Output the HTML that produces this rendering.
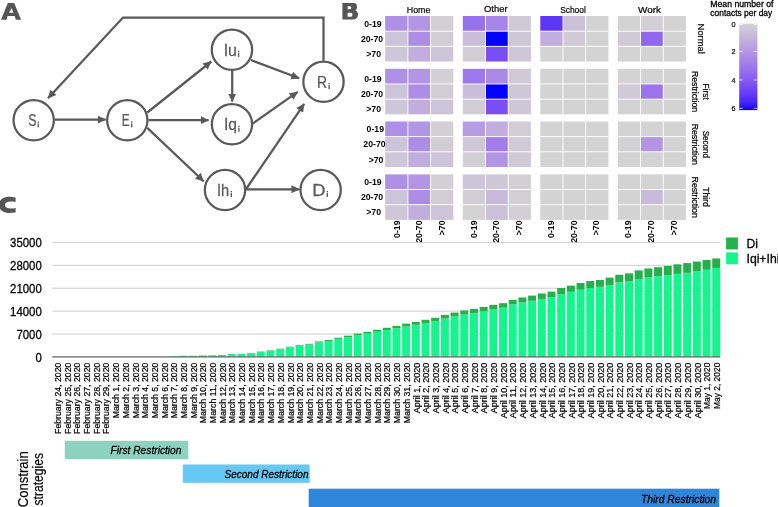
<!DOCTYPE html>
<html><head><meta charset="utf-8"><title>Figure</title>
<style>
html,body{margin:0;padding:0;background:#fff;}
body{width:778px;height:507px;overflow:hidden;position:relative;font-family:"Liberation Sans",sans-serif;}
svg text{font-family:"Liberation Sans",sans-serif;}
</style></head><body>
<svg width="778" height="507" viewBox="0 0 778 507" style="position:absolute;left:0;top:0;will-change:transform;opacity:0.999">
<defs><marker id="ah" viewBox="0 0 10 10" refX="9.5" refY="5" markerWidth="8.4" markerHeight="9.0" preserveAspectRatio="none" markerUnits="userSpaceOnUse" orient="auto"><path d="M0,0.5 L10,5 L0,9.5 Z" fill="#595959"/></marker>
<linearGradient id="cb" x1="0" y1="0" x2="0" y2="1">
<stop offset="0" stop-color="#d3d3d3"/>
<stop offset="0.05" stop-color="#cfcad6"/>
<stop offset="0.1" stop-color="#cac1d9"/>
<stop offset="0.15" stop-color="#c6b7db"/>
<stop offset="0.2" stop-color="#c1aede"/>
<stop offset="0.25" stop-color="#bba5e0"/>
<stop offset="0.3" stop-color="#b69ce3"/>
<stop offset="0.35" stop-color="#b093e5"/>
<stop offset="0.4" stop-color="#aa89e7"/>
<stop offset="0.45" stop-color="#a480ea"/>
<stop offset="0.5" stop-color="#9d77ec"/>
<stop offset="0.55" stop-color="#966eee"/>
<stop offset="0.6" stop-color="#8e65f0"/>
<stop offset="0.65" stop-color="#855bf2"/>
<stop offset="0.7" stop-color="#7c51f4"/>
<stop offset="0.75" stop-color="#7248f6"/>
<stop offset="0.8" stop-color="#673df8"/>
<stop offset="0.85" stop-color="#5932fa"/>
<stop offset="0.9" stop-color="#4926fb"/>
<stop offset="0.95" stop-color="#3318fd"/>
<stop offset="1" stop-color="#0000ff"/>
</linearGradient></defs>
<g fill="none" stroke="#595959" stroke-width="2.25">
<circle cx="33.7" cy="120.2" r="20.15"/>
<circle cx="127.3" cy="120.2" r="20.15"/>
<circle cx="231.95" cy="49.7" r="20.15"/>
<circle cx="231.95" cy="124.2" r="20.15"/>
<circle cx="225" cy="190" r="20.15"/>
<circle cx="323.5" cy="81.8" r="20.15"/>
<circle cx="320.65" cy="190" r="20.15"/>
<line x1="55" y1="119.6" x2="105.6" y2="119.6" marker-end="url(#ah)"/>
<line x1="147.3" y1="112.5" x2="211.3" y2="61.5" marker-end="url(#ah)"/>
<line x1="148.4" y1="120.2" x2="208.6" y2="120.2" marker-end="url(#ah)"/>
<line x1="147.3" y1="127.9" x2="203.6" y2="181.2" marker-end="url(#ah)"/>
<line x1="232.2" y1="70.7" x2="232.2" y2="101.6" marker-end="url(#ah)"/>
<line x1="250.9" y1="60" x2="299.2" y2="78.3" marker-end="url(#ah)"/>
<line x1="252.7" y1="123.6" x2="297.7" y2="91.9" marker-end="url(#ah)"/>
<line x1="246.1" y1="189" x2="304.2" y2="103.8" marker-end="url(#ah)"/>
<line x1="246.1" y1="189.3" x2="299.4" y2="189.3" marker-end="url(#ah)"/>
<polyline points="323.5,60.8 323.5,17.5 123,17.5 48,98.2" marker-end="url(#ah)"/>
</g>
<g font-family="Liberation Sans, sans-serif" fill="#595959">
<text transform="translate(28.32,125.90) scale(0.754,1)" font-size="16.3" stroke="#595959" stroke-width="0.25">S</text>
<rect x="37.53" y="123.40" width="1.35" height="4.0" stroke="none"/><rect x="37.48" y="121.40" width="1.45" height="1.3" stroke="none"/>
<text transform="translate(121.87,125.80) scale(0.731,1)" font-size="16.3" stroke="#595959" stroke-width="0.25">E</text>
<rect x="131.03" y="123.30" width="1.35" height="4.0" stroke="none"/><rect x="130.98" y="121.30" width="1.45" height="1.3" stroke="none"/>
<text transform="translate(223.66,55.50) scale(0.977,1)" font-size="16.3" stroke="#595959" stroke-width="0.25">Iu</text>
<rect x="237.93" y="53.00" width="1.35" height="4.0" stroke="none"/><rect x="237.88" y="51.00" width="1.45" height="1.3" stroke="none"/>
<text transform="translate(223.88,130.30) scale(0.960,1)" font-size="16.3" stroke="#595959" stroke-width="0.25">Iq</text>
<rect x="238.23" y="127.80" width="1.35" height="4.0" stroke="none"/><rect x="238.18" y="125.80" width="1.45" height="1.3" stroke="none"/>
<text transform="translate(216.96,195.50) scale(0.899,1)" font-size="16.3" stroke="#595959" stroke-width="0.25">Ih</text>
<rect x="230.63" y="193.00" width="1.35" height="4.0" stroke="none"/><rect x="230.58" y="191.00" width="1.45" height="1.3" stroke="none"/>
<text transform="translate(317.11,87.60) scale(0.856,1)" font-size="16.3" stroke="#595959" stroke-width="0.25">R</text>
<rect x="328.43" y="85.10" width="1.35" height="4.0" stroke="none"/><rect x="328.38" y="83.10" width="1.45" height="1.3" stroke="none"/>
<text transform="translate(312.26,195.50) scale(1.128,1)" font-size="16.3" stroke="#595959" stroke-width="0.25">D</text>
<rect x="326.63" y="193.00" width="1.35" height="4.0" stroke="none"/><rect x="326.58" y="191.00" width="1.45" height="1.3" stroke="none"/>
</g>
<g fill="#555" fill-rule="evenodd">
<path d="M1.04,19.64 L7.8,3.0 L14.2,3.0 L21.06,19.64 L15.85,19.64 L14.7,16.1 L7.5,16.1 L6.6,19.64 Z M11.6,8.0 L13.35,12.8 L9.1,12.8 Z"/>
<path d="M342.4,2.9 L353.3,2.9 C356.4,2.9 357.1,5.0 357.1,7.0 C357.1,8.8 356.3,9.8 355.2,10.4 C357.0,11.0 358.0,12.4 358.0,14.7 C358,17.8 356,19.5 352.5,19.5 L342.4,19.5 Z M347.6,6.2 L350.0,6.2 C351.6,6.2 351.6,9.2 350,9.2 L347.6,9.2 Z M347.6,12.7 L350.8,12.7 C353.0,12.7 353.0,16.8 350.8,16.8 L347.6,16.8 Z"/>
<path d="M15.6,197.6 C13,197.0 10.8,196.8 9,196.8 C2.8,196.8 -1.0,200.2 -1.0,204.8 C-1.0,209.5 2.8,212.9 9,212.9 C10.8,212.9 13,212.8 15.6,212.5 L15.6,208.1 C13.5,208.5 12,208.6 10.8,208.6 C7,208.6 5,207 5,205 C5,203 7,201.6 10.8,201.6 C12,201.6 13.5,201.7 15.6,202.1 Z"/>
</g>
<rect x="385.20" y="16.00" width="22.70" height="15.17" fill="#ae90e6"/>
<rect x="407.90" y="16.00" width="22.70" height="15.17" fill="#b296e4"/>
<rect x="430.60" y="16.00" width="22.70" height="15.17" fill="#d2d0d4"/>
<rect x="385.20" y="31.17" width="22.70" height="15.17" fill="#ccc4d8"/>
<rect x="407.90" y="31.17" width="22.70" height="15.17" fill="#ac8de7"/>
<rect x="430.60" y="31.17" width="22.70" height="15.17" fill="#d0cdd5"/>
<rect x="385.20" y="46.33" width="22.70" height="15.17" fill="#cdc7d7"/>
<rect x="407.90" y="46.33" width="22.70" height="15.17" fill="#c1aede"/>
<rect x="430.60" y="46.33" width="22.70" height="15.17" fill="#ccc4d8"/>
<rect x="407.45" y="16.00" width="0.9" height="45.50" fill="#fff"/>
<rect x="385.20" y="30.72" width="68.10" height="0.9" fill="#fff"/>
<rect x="430.15" y="16.00" width="0.9" height="45.50" fill="#fff"/>
<rect x="385.20" y="45.88" width="68.10" height="0.9" fill="#fff"/>
<rect x="462.80" y="16.00" width="22.70" height="15.17" fill="#9871ed"/>
<rect x="485.50" y="16.00" width="22.70" height="15.17" fill="#a886e8"/>
<rect x="508.20" y="16.00" width="22.70" height="15.17" fill="#cfcad6"/>
<rect x="462.80" y="31.17" width="22.70" height="15.17" fill="#c9bdd9"/>
<rect x="485.50" y="31.17" width="22.70" height="15.17" fill="#0000ff"/>
<rect x="508.20" y="31.17" width="22.70" height="15.17" fill="#cdc7d7"/>
<rect x="462.80" y="46.33" width="22.70" height="15.17" fill="#d0cdd5"/>
<rect x="485.50" y="46.33" width="22.70" height="15.17" fill="#794ef5"/>
<rect x="508.20" y="46.33" width="22.70" height="15.17" fill="#cdc7d7"/>
<rect x="485.05" y="16.00" width="0.9" height="45.50" fill="#fff"/>
<rect x="462.80" y="30.72" width="68.10" height="0.9" fill="#fff"/>
<rect x="507.75" y="16.00" width="0.9" height="45.50" fill="#fff"/>
<rect x="462.80" y="45.88" width="68.10" height="0.9" fill="#fff"/>
<rect x="540.30" y="16.00" width="22.70" height="15.17" fill="#5e36f9"/>
<rect x="563.00" y="16.00" width="22.70" height="15.17" fill="#cac1d9"/>
<rect x="585.70" y="16.00" width="22.70" height="15.17" fill="#d3d3d3"/>
<rect x="540.30" y="31.17" width="22.70" height="15.17" fill="#c1aede"/>
<rect x="563.00" y="31.17" width="22.70" height="15.17" fill="#cfcad6"/>
<rect x="585.70" y="31.17" width="22.70" height="15.17" fill="#d3d3d3"/>
<rect x="540.30" y="46.33" width="22.70" height="15.17" fill="#d3d3d3"/>
<rect x="563.00" y="46.33" width="22.70" height="15.17" fill="#d3d3d3"/>
<rect x="585.70" y="46.33" width="22.70" height="15.17" fill="#d3d3d3"/>
<rect x="562.55" y="16.00" width="0.9" height="45.50" fill="#fff"/>
<rect x="540.30" y="30.72" width="68.10" height="0.9" fill="#fff"/>
<rect x="585.25" y="16.00" width="0.9" height="45.50" fill="#fff"/>
<rect x="540.30" y="45.88" width="68.10" height="0.9" fill="#fff"/>
<rect x="617.80" y="16.00" width="22.70" height="15.17" fill="#d3d3d3"/>
<rect x="640.50" y="16.00" width="22.70" height="15.17" fill="#d2d0d4"/>
<rect x="663.20" y="16.00" width="22.70" height="15.17" fill="#d3d3d3"/>
<rect x="617.80" y="31.17" width="22.70" height="15.17" fill="#cfcad6"/>
<rect x="640.50" y="31.17" width="22.70" height="15.17" fill="#9068ef"/>
<rect x="663.20" y="31.17" width="22.70" height="15.17" fill="#d3d3d3"/>
<rect x="617.80" y="46.33" width="22.70" height="15.17" fill="#d3d3d3"/>
<rect x="640.50" y="46.33" width="22.70" height="15.17" fill="#d3d3d3"/>
<rect x="663.20" y="46.33" width="22.70" height="15.17" fill="#d3d3d3"/>
<rect x="640.05" y="16.00" width="0.9" height="45.50" fill="#fff"/>
<rect x="617.80" y="30.72" width="68.10" height="0.9" fill="#fff"/>
<rect x="662.75" y="16.00" width="0.9" height="45.50" fill="#fff"/>
<rect x="617.80" y="45.88" width="68.10" height="0.9" fill="#fff"/>
<rect x="385.20" y="68.80" width="22.70" height="15.17" fill="#ae90e6"/>
<rect x="407.90" y="68.80" width="22.70" height="15.17" fill="#b296e4"/>
<rect x="430.60" y="68.80" width="22.70" height="15.17" fill="#d2d0d4"/>
<rect x="385.20" y="83.97" width="22.70" height="15.17" fill="#ccc4d8"/>
<rect x="407.90" y="83.97" width="22.70" height="15.17" fill="#ac8de7"/>
<rect x="430.60" y="83.97" width="22.70" height="15.17" fill="#d0cdd5"/>
<rect x="385.20" y="99.13" width="22.70" height="15.17" fill="#cdc7d7"/>
<rect x="407.90" y="99.13" width="22.70" height="15.17" fill="#c1aede"/>
<rect x="430.60" y="99.13" width="22.70" height="15.17" fill="#ccc4d8"/>
<rect x="407.45" y="68.80" width="0.9" height="45.50" fill="#fff"/>
<rect x="385.20" y="83.52" width="68.10" height="0.9" fill="#fff"/>
<rect x="430.15" y="68.80" width="0.9" height="45.50" fill="#fff"/>
<rect x="385.20" y="98.68" width="68.10" height="0.9" fill="#fff"/>
<rect x="462.80" y="68.80" width="22.70" height="15.17" fill="#9d77ec"/>
<rect x="485.50" y="68.80" width="22.70" height="15.17" fill="#aa89e7"/>
<rect x="508.20" y="68.80" width="22.70" height="15.17" fill="#cfcad6"/>
<rect x="462.80" y="83.97" width="22.70" height="15.17" fill="#c9bdd9"/>
<rect x="485.50" y="83.97" width="22.70" height="15.17" fill="#0000ff"/>
<rect x="508.20" y="83.97" width="22.70" height="15.17" fill="#cdc7d7"/>
<rect x="462.80" y="99.13" width="22.70" height="15.17" fill="#d0cdd5"/>
<rect x="485.50" y="99.13" width="22.70" height="15.17" fill="#794ef5"/>
<rect x="508.20" y="99.13" width="22.70" height="15.17" fill="#cdc7d7"/>
<rect x="485.05" y="68.80" width="0.9" height="45.50" fill="#fff"/>
<rect x="462.80" y="83.52" width="68.10" height="0.9" fill="#fff"/>
<rect x="507.75" y="68.80" width="0.9" height="45.50" fill="#fff"/>
<rect x="462.80" y="98.68" width="68.10" height="0.9" fill="#fff"/>
<rect x="540.30" y="68.80" width="22.70" height="15.17" fill="#d3d3d3"/>
<rect x="563.00" y="68.80" width="22.70" height="15.17" fill="#d3d3d3"/>
<rect x="585.70" y="68.80" width="22.70" height="15.17" fill="#d3d3d3"/>
<rect x="540.30" y="83.97" width="22.70" height="15.17" fill="#d3d3d3"/>
<rect x="563.00" y="83.97" width="22.70" height="15.17" fill="#d3d3d3"/>
<rect x="585.70" y="83.97" width="22.70" height="15.17" fill="#d3d3d3"/>
<rect x="540.30" y="99.13" width="22.70" height="15.17" fill="#d3d3d3"/>
<rect x="563.00" y="99.13" width="22.70" height="15.17" fill="#d3d3d3"/>
<rect x="585.70" y="99.13" width="22.70" height="15.17" fill="#d3d3d3"/>
<rect x="562.55" y="68.80" width="0.9" height="45.50" fill="#fff"/>
<rect x="540.30" y="83.52" width="68.10" height="0.9" fill="#fff"/>
<rect x="585.25" y="68.80" width="0.9" height="45.50" fill="#fff"/>
<rect x="540.30" y="98.68" width="68.10" height="0.9" fill="#fff"/>
<rect x="617.80" y="68.80" width="22.70" height="15.17" fill="#d3d3d3"/>
<rect x="640.50" y="68.80" width="22.70" height="15.17" fill="#d3d3d3"/>
<rect x="663.20" y="68.80" width="22.70" height="15.17" fill="#d3d3d3"/>
<rect x="617.80" y="83.97" width="22.70" height="15.17" fill="#cfcad6"/>
<rect x="640.50" y="83.97" width="22.70" height="15.17" fill="#9b74ec"/>
<rect x="663.20" y="83.97" width="22.70" height="15.17" fill="#d3d3d3"/>
<rect x="617.80" y="99.13" width="22.70" height="15.17" fill="#d3d3d3"/>
<rect x="640.50" y="99.13" width="22.70" height="15.17" fill="#d3d3d3"/>
<rect x="663.20" y="99.13" width="22.70" height="15.17" fill="#d3d3d3"/>
<rect x="640.05" y="68.80" width="0.9" height="45.50" fill="#fff"/>
<rect x="617.80" y="83.52" width="68.10" height="0.9" fill="#fff"/>
<rect x="662.75" y="68.80" width="0.9" height="45.50" fill="#fff"/>
<rect x="617.80" y="98.68" width="68.10" height="0.9" fill="#fff"/>
<rect x="385.20" y="121.50" width="22.70" height="15.17" fill="#ae90e6"/>
<rect x="407.90" y="121.50" width="22.70" height="15.17" fill="#b296e4"/>
<rect x="430.60" y="121.50" width="22.70" height="15.17" fill="#d2d0d4"/>
<rect x="385.20" y="136.67" width="22.70" height="15.17" fill="#ccc4d8"/>
<rect x="407.90" y="136.67" width="22.70" height="15.17" fill="#ac8de7"/>
<rect x="430.60" y="136.67" width="22.70" height="15.17" fill="#d0cdd5"/>
<rect x="385.20" y="151.83" width="22.70" height="15.17" fill="#cdc7d7"/>
<rect x="407.90" y="151.83" width="22.70" height="15.17" fill="#c1aede"/>
<rect x="430.60" y="151.83" width="22.70" height="15.17" fill="#ccc4d8"/>
<rect x="407.45" y="121.50" width="0.9" height="45.50" fill="#fff"/>
<rect x="385.20" y="136.22" width="68.10" height="0.9" fill="#fff"/>
<rect x="430.15" y="121.50" width="0.9" height="45.50" fill="#fff"/>
<rect x="385.20" y="151.38" width="68.10" height="0.9" fill="#fff"/>
<rect x="462.80" y="121.50" width="22.70" height="15.17" fill="#b69ce3"/>
<rect x="485.50" y="121.50" width="22.70" height="15.17" fill="#c1aede"/>
<rect x="508.20" y="121.50" width="22.70" height="15.17" fill="#d0cdd5"/>
<rect x="462.80" y="136.67" width="22.70" height="15.17" fill="#cdc7d7"/>
<rect x="485.50" y="136.67" width="22.70" height="15.17" fill="#a27dea"/>
<rect x="508.20" y="136.67" width="22.70" height="15.17" fill="#cfcad6"/>
<rect x="462.80" y="151.83" width="22.70" height="15.17" fill="#d2d0d4"/>
<rect x="485.50" y="151.83" width="22.70" height="15.17" fill="#b296e4"/>
<rect x="508.20" y="151.83" width="22.70" height="15.17" fill="#cfcad6"/>
<rect x="485.05" y="121.50" width="0.9" height="45.50" fill="#fff"/>
<rect x="462.80" y="136.22" width="68.10" height="0.9" fill="#fff"/>
<rect x="507.75" y="121.50" width="0.9" height="45.50" fill="#fff"/>
<rect x="462.80" y="151.38" width="68.10" height="0.9" fill="#fff"/>
<rect x="540.30" y="121.50" width="22.70" height="15.17" fill="#d3d3d3"/>
<rect x="563.00" y="121.50" width="22.70" height="15.17" fill="#d3d3d3"/>
<rect x="585.70" y="121.50" width="22.70" height="15.17" fill="#d3d3d3"/>
<rect x="540.30" y="136.67" width="22.70" height="15.17" fill="#d3d3d3"/>
<rect x="563.00" y="136.67" width="22.70" height="15.17" fill="#d3d3d3"/>
<rect x="585.70" y="136.67" width="22.70" height="15.17" fill="#d3d3d3"/>
<rect x="540.30" y="151.83" width="22.70" height="15.17" fill="#d3d3d3"/>
<rect x="563.00" y="151.83" width="22.70" height="15.17" fill="#d3d3d3"/>
<rect x="585.70" y="151.83" width="22.70" height="15.17" fill="#d3d3d3"/>
<rect x="562.55" y="121.50" width="0.9" height="45.50" fill="#fff"/>
<rect x="540.30" y="136.22" width="68.10" height="0.9" fill="#fff"/>
<rect x="585.25" y="121.50" width="0.9" height="45.50" fill="#fff"/>
<rect x="540.30" y="151.38" width="68.10" height="0.9" fill="#fff"/>
<rect x="617.80" y="121.50" width="22.70" height="15.17" fill="#d3d3d3"/>
<rect x="640.50" y="121.50" width="22.70" height="15.17" fill="#d3d3d3"/>
<rect x="663.20" y="121.50" width="22.70" height="15.17" fill="#d3d3d3"/>
<rect x="617.80" y="136.67" width="22.70" height="15.17" fill="#d2d1d3"/>
<rect x="640.50" y="136.67" width="22.70" height="15.17" fill="#b296e4"/>
<rect x="663.20" y="136.67" width="22.70" height="15.17" fill="#d3d3d3"/>
<rect x="617.80" y="151.83" width="22.70" height="15.17" fill="#d3d3d3"/>
<rect x="640.50" y="151.83" width="22.70" height="15.17" fill="#d3d3d3"/>
<rect x="663.20" y="151.83" width="22.70" height="15.17" fill="#d3d3d3"/>
<rect x="640.05" y="121.50" width="0.9" height="45.50" fill="#fff"/>
<rect x="617.80" y="136.22" width="68.10" height="0.9" fill="#fff"/>
<rect x="662.75" y="121.50" width="0.9" height="45.50" fill="#fff"/>
<rect x="617.80" y="151.38" width="68.10" height="0.9" fill="#fff"/>
<rect x="385.20" y="174.40" width="22.70" height="15.17" fill="#ae90e6"/>
<rect x="407.90" y="174.40" width="22.70" height="15.17" fill="#b296e4"/>
<rect x="430.60" y="174.40" width="22.70" height="15.17" fill="#d2d0d4"/>
<rect x="385.20" y="189.57" width="22.70" height="15.17" fill="#ccc4d8"/>
<rect x="407.90" y="189.57" width="22.70" height="15.17" fill="#ac8de7"/>
<rect x="430.60" y="189.57" width="22.70" height="15.17" fill="#d0cdd5"/>
<rect x="385.20" y="204.73" width="22.70" height="15.17" fill="#cdc7d7"/>
<rect x="407.90" y="204.73" width="22.70" height="15.17" fill="#c1aede"/>
<rect x="430.60" y="204.73" width="22.70" height="15.17" fill="#ccc4d8"/>
<rect x="407.45" y="174.40" width="0.9" height="45.50" fill="#fff"/>
<rect x="385.20" y="189.12" width="68.10" height="0.9" fill="#fff"/>
<rect x="430.15" y="174.40" width="0.9" height="45.50" fill="#fff"/>
<rect x="385.20" y="204.28" width="68.10" height="0.9" fill="#fff"/>
<rect x="462.80" y="174.40" width="22.70" height="15.17" fill="#ccc4d8"/>
<rect x="485.50" y="174.40" width="22.70" height="15.17" fill="#cdc7d7"/>
<rect x="508.20" y="174.40" width="22.70" height="15.17" fill="#d2d0d4"/>
<rect x="462.80" y="189.57" width="22.70" height="15.17" fill="#d0cdd5"/>
<rect x="485.50" y="189.57" width="22.70" height="15.17" fill="#c7bada"/>
<rect x="508.20" y="189.57" width="22.70" height="15.17" fill="#d2d0d4"/>
<rect x="462.80" y="204.73" width="22.70" height="15.17" fill="#d3d3d3"/>
<rect x="485.50" y="204.73" width="22.70" height="15.17" fill="#cac1d9"/>
<rect x="508.20" y="204.73" width="22.70" height="15.17" fill="#d2d0d4"/>
<rect x="485.05" y="174.40" width="0.9" height="45.50" fill="#fff"/>
<rect x="462.80" y="189.12" width="68.10" height="0.9" fill="#fff"/>
<rect x="507.75" y="174.40" width="0.9" height="45.50" fill="#fff"/>
<rect x="462.80" y="204.28" width="68.10" height="0.9" fill="#fff"/>
<rect x="540.30" y="174.40" width="22.70" height="15.17" fill="#d3d3d3"/>
<rect x="563.00" y="174.40" width="22.70" height="15.17" fill="#d3d3d3"/>
<rect x="585.70" y="174.40" width="22.70" height="15.17" fill="#d3d3d3"/>
<rect x="540.30" y="189.57" width="22.70" height="15.17" fill="#d3d3d3"/>
<rect x="563.00" y="189.57" width="22.70" height="15.17" fill="#d3d3d3"/>
<rect x="585.70" y="189.57" width="22.70" height="15.17" fill="#d3d3d3"/>
<rect x="540.30" y="204.73" width="22.70" height="15.17" fill="#d3d3d3"/>
<rect x="563.00" y="204.73" width="22.70" height="15.17" fill="#d3d3d3"/>
<rect x="585.70" y="204.73" width="22.70" height="15.17" fill="#d3d3d3"/>
<rect x="562.55" y="174.40" width="0.9" height="45.50" fill="#fff"/>
<rect x="540.30" y="189.12" width="68.10" height="0.9" fill="#fff"/>
<rect x="585.25" y="174.40" width="0.9" height="45.50" fill="#fff"/>
<rect x="540.30" y="204.28" width="68.10" height="0.9" fill="#fff"/>
<rect x="617.80" y="174.40" width="22.70" height="15.17" fill="#d3d3d3"/>
<rect x="640.50" y="174.40" width="22.70" height="15.17" fill="#d3d3d3"/>
<rect x="663.20" y="174.40" width="22.70" height="15.17" fill="#d3d3d3"/>
<rect x="617.80" y="189.57" width="22.70" height="15.17" fill="#d3d3d3"/>
<rect x="640.50" y="189.57" width="22.70" height="15.17" fill="#c7bada"/>
<rect x="663.20" y="189.57" width="22.70" height="15.17" fill="#d3d3d3"/>
<rect x="617.80" y="204.73" width="22.70" height="15.17" fill="#d3d3d3"/>
<rect x="640.50" y="204.73" width="22.70" height="15.17" fill="#d3d3d3"/>
<rect x="663.20" y="204.73" width="22.70" height="15.17" fill="#d3d3d3"/>
<rect x="640.05" y="174.40" width="0.9" height="45.50" fill="#fff"/>
<rect x="617.80" y="189.12" width="68.10" height="0.9" fill="#fff"/>
<rect x="662.75" y="174.40" width="0.9" height="45.50" fill="#fff"/>
<rect x="617.80" y="204.28" width="68.10" height="0.9" fill="#fff"/>
<g font-family="Liberation Sans, sans-serif" fill="#000">
<text x="406.8" y="12.8" font-size="9.2" stroke="#000" stroke-width="0.22" textLength="23.5" lengthAdjust="spacingAndGlyphs">Home</text>
<text x="484.0" y="12.4" font-size="9.2" stroke="#000" stroke-width="0.22" textLength="23.6" lengthAdjust="spacingAndGlyphs">Other</text>
<text x="560.2" y="12.8" font-size="9.2" stroke="#000" stroke-width="0.22" textLength="25.6" lengthAdjust="spacingAndGlyphs">School</text>
<text x="638.0" y="12.8" font-size="9.2" stroke="#000" stroke-width="0.22" textLength="23.0" lengthAdjust="spacingAndGlyphs">Work</text>
<text x="381.6" y="27.0" font-size="8.7" font-weight="bold" text-anchor="end">0-19</text>
<text x="383.2" y="42.1" font-size="8.7" font-weight="bold" text-anchor="end">20-70</text>
<text x="381.0" y="57.3" font-size="8.7" font-weight="bold" text-anchor="end">&gt;70</text>
<text x="381.6" y="81.9" font-size="8.7" font-weight="bold" text-anchor="end">0-19</text>
<text x="383.2" y="97.0" font-size="8.7" font-weight="bold" text-anchor="end">20-70</text>
<text x="381.0" y="112.2" font-size="8.7" font-weight="bold" text-anchor="end">&gt;70</text>
<text x="384.0" y="132.3" font-size="8.7" font-weight="bold" text-anchor="end">0-19</text>
<text x="385.6" y="147.4" font-size="8.7" font-weight="bold" text-anchor="end">20-70</text>
<text x="383.4" y="162.6" font-size="8.7" font-weight="bold" text-anchor="end">&gt;70</text>
<text x="381.6" y="184.7" font-size="8.7" font-weight="bold" text-anchor="end">0-19</text>
<text x="383.2" y="199.8" font-size="8.7" font-weight="bold" text-anchor="end">20-70</text>
<text x="381.0" y="215.0" font-size="8.7" font-weight="bold" text-anchor="end">&gt;70</text>
<text transform="translate(399.8,220.5) rotate(-90)" font-size="8.7" font-weight="bold" text-anchor="end">0-19</text>
<text transform="translate(422.4,220.5) rotate(-90)" font-size="8.7" font-weight="bold" text-anchor="end">20-70</text>
<text transform="translate(445.1,220.5) rotate(-90)" font-size="8.7" font-weight="bold" text-anchor="end">&gt;70</text>
<text transform="translate(476.8,220.5) rotate(-90)" font-size="8.7" font-weight="bold" text-anchor="end">0-19</text>
<text transform="translate(499.4,220.5) rotate(-90)" font-size="8.7" font-weight="bold" text-anchor="end">20-70</text>
<text transform="translate(522.1,220.5) rotate(-90)" font-size="8.7" font-weight="bold" text-anchor="end">&gt;70</text>
<text transform="translate(553.9,220.5) rotate(-90)" font-size="8.7" font-weight="bold" text-anchor="end">0-19</text>
<text transform="translate(576.5,220.5) rotate(-90)" font-size="8.7" font-weight="bold" text-anchor="end">20-70</text>
<text transform="translate(599.2,220.5) rotate(-90)" font-size="8.7" font-weight="bold" text-anchor="end">&gt;70</text>
<text transform="translate(631.1,220.5) rotate(-90)" font-size="8.7" font-weight="bold" text-anchor="end">0-19</text>
<text transform="translate(653.8,220.5) rotate(-90)" font-size="8.7" font-weight="bold" text-anchor="end">20-70</text>
<text transform="translate(676.5,220.5) rotate(-90)" font-size="8.7" font-weight="bold" text-anchor="end">&gt;70</text>
<text transform="translate(697.6,23.6) rotate(90)" font-size="9.2" stroke="#000" stroke-width="0.22" textLength="30.3" lengthAdjust="spacingAndGlyphs">Normal</text>
<text transform="translate(702.6,83.5) rotate(90)" font-size="9.2" stroke="#000" stroke-width="0.22" textLength="16.2" lengthAdjust="spacingAndGlyphs">First</text>
<text transform="translate(691.7,70.9) rotate(90)" font-size="9.2" stroke="#000" stroke-width="0.22" textLength="41.2" lengthAdjust="spacingAndGlyphs">Restriction</text>
<text transform="translate(702.6,130.7) rotate(90)" font-size="9.2" stroke="#000" stroke-width="0.22" textLength="27.2" lengthAdjust="spacingAndGlyphs">Second</text>
<text transform="translate(691.7,123.7) rotate(90)" font-size="9.2" stroke="#000" stroke-width="0.22" textLength="41.2" lengthAdjust="spacingAndGlyphs">Restriction</text>
<text transform="translate(702.6,187.3) rotate(90)" font-size="9.2" stroke="#000" stroke-width="0.22" textLength="19.6" lengthAdjust="spacingAndGlyphs">Third</text>
<text transform="translate(691.7,176.6) rotate(90)" font-size="9.2" stroke="#000" stroke-width="0.22" textLength="41.2" lengthAdjust="spacingAndGlyphs">Restriction</text>
<text x="710.3" y="6.6" font-size="8.4" stroke="#000" stroke-width="0.3" textLength="63.2" lengthAdjust="spacingAndGlyphs">Mean number of</text>
<text x="710.3" y="16.1" font-size="8.4" stroke="#000" stroke-width="0.3" textLength="62" lengthAdjust="spacingAndGlyphs">contacts per day</text>
<rect x="739.2" y="23.7" width="18.2" height="86.4" fill="url(#cb)"/>
<rect x="739.2" y="24.0" width="3.6" height="0.7" fill="#fff"/>
<rect x="753.8" y="24.0" width="3.6" height="0.7" fill="#fff"/>
<text x="735.5" y="27.0" font-size="7.2" stroke="#000" stroke-width="0.2" text-anchor="end">0</text>
<rect x="739.2" y="51.2" width="3.6" height="0.7" fill="#fff"/>
<rect x="753.8" y="51.2" width="3.6" height="0.7" fill="#fff"/>
<text x="735.5" y="54.2" font-size="7.2" stroke="#000" stroke-width="0.2" text-anchor="end">2</text>
<rect x="739.2" y="79.6" width="3.6" height="0.7" fill="#fff"/>
<rect x="753.8" y="79.6" width="3.6" height="0.7" fill="#fff"/>
<text x="735.5" y="82.5" font-size="7.2" stroke="#000" stroke-width="0.2" text-anchor="end">4</text>
<rect x="739.2" y="107.9" width="3.6" height="0.7" fill="#fff"/>
<rect x="753.8" y="107.9" width="3.6" height="0.7" fill="#fff"/>
<text x="735.5" y="110.8" font-size="7.2" stroke="#000" stroke-width="0.2" text-anchor="end">6</text>
</g>
<g>
<rect x="52.3" y="333.67" width="668" height="0.7" fill="#b8b8b8"/>
<rect x="52.3" y="310.74" width="668" height="0.7" fill="#b8b8b8"/>
<rect x="52.3" y="287.81" width="668" height="0.7" fill="#b8b8b8"/>
<rect x="52.3" y="264.88" width="668" height="0.7" fill="#b8b8b8"/>
<rect x="52.3" y="241.95" width="668" height="0.7" fill="#b8b8b8"/>
<rect x="169.58" y="356.22" width="8.00" height="0.68" fill="#15f58d"/>
<rect x="179.27" y="355.72" width="8.00" height="1.18" fill="#15f58d"/>
<rect x="188.96" y="355.75" width="8.00" height="1.15" fill="#15f58d"/>
<rect x="198.65" y="355.42" width="8.00" height="1.48" fill="#15f58d"/>
<rect x="198.65" y="355.36" width="8.00" height="0.06" fill="#25b04c"/>
<rect x="208.34" y="355.26" width="8.00" height="1.64" fill="#15f58d"/>
<rect x="208.34" y="355.19" width="8.00" height="0.07" fill="#25b04c"/>
<rect x="218.03" y="355.00" width="8.00" height="1.90" fill="#15f58d"/>
<rect x="218.03" y="354.91" width="8.00" height="0.09" fill="#25b04c"/>
<rect x="227.72" y="354.15" width="8.00" height="2.75" fill="#15f58d"/>
<rect x="227.72" y="354.00" width="8.00" height="0.15" fill="#25b04c"/>
<rect x="237.41" y="354.04" width="8.00" height="2.86" fill="#15f58d"/>
<rect x="237.41" y="353.85" width="8.00" height="0.19" fill="#25b04c"/>
<rect x="247.10" y="353.26" width="8.00" height="3.64" fill="#15f58d"/>
<rect x="247.10" y="353.00" width="8.00" height="0.27" fill="#25b04c"/>
<rect x="256.79" y="351.93" width="8.00" height="4.97" fill="#15f58d"/>
<rect x="256.79" y="351.57" width="8.00" height="0.36" fill="#25b04c"/>
<rect x="266.48" y="350.69" width="8.00" height="6.21" fill="#15f58d"/>
<rect x="266.48" y="350.25" width="8.00" height="0.44" fill="#25b04c"/>
<rect x="276.17" y="349.23" width="8.00" height="7.67" fill="#15f58d"/>
<rect x="276.17" y="348.73" width="8.00" height="0.50" fill="#25b04c"/>
<rect x="285.86" y="347.30" width="8.00" height="9.60" fill="#15f58d"/>
<rect x="285.86" y="346.72" width="8.00" height="0.57" fill="#25b04c"/>
<rect x="295.55" y="345.56" width="8.00" height="11.34" fill="#15f58d"/>
<rect x="295.55" y="344.88" width="8.00" height="0.68" fill="#25b04c"/>
<rect x="305.24" y="344.61" width="8.00" height="12.29" fill="#15f58d"/>
<rect x="305.24" y="343.83" width="8.00" height="0.78" fill="#25b04c"/>
<rect x="314.93" y="342.42" width="8.00" height="14.48" fill="#15f58d"/>
<rect x="314.93" y="341.49" width="8.00" height="0.93" fill="#25b04c"/>
<rect x="324.62" y="340.98" width="8.00" height="15.92" fill="#15f58d"/>
<rect x="324.62" y="339.94" width="8.00" height="1.03" fill="#25b04c"/>
<rect x="334.31" y="338.83" width="8.00" height="18.07" fill="#15f58d"/>
<rect x="334.31" y="337.73" width="8.00" height="1.10" fill="#25b04c"/>
<rect x="344.00" y="337.17" width="8.00" height="19.73" fill="#15f58d"/>
<rect x="344.00" y="335.70" width="8.00" height="1.47" fill="#25b04c"/>
<rect x="353.69" y="335.12" width="8.00" height="21.78" fill="#15f58d"/>
<rect x="353.69" y="333.66" width="8.00" height="1.45" fill="#25b04c"/>
<rect x="363.38" y="333.67" width="8.00" height="23.23" fill="#15f58d"/>
<rect x="363.38" y="331.80" width="8.00" height="1.86" fill="#25b04c"/>
<rect x="373.07" y="331.77" width="8.00" height="25.13" fill="#15f58d"/>
<rect x="373.07" y="329.75" width="8.00" height="2.02" fill="#25b04c"/>
<rect x="382.76" y="330.02" width="8.00" height="26.88" fill="#15f58d"/>
<rect x="382.76" y="327.78" width="8.00" height="2.24" fill="#25b04c"/>
<rect x="392.45" y="328.36" width="8.00" height="28.54" fill="#15f58d"/>
<rect x="392.45" y="325.91" width="8.00" height="2.45" fill="#25b04c"/>
<rect x="402.14" y="326.43" width="8.00" height="30.47" fill="#15f58d"/>
<rect x="402.14" y="323.64" width="8.00" height="2.80" fill="#25b04c"/>
<rect x="411.83" y="324.81" width="8.00" height="32.09" fill="#15f58d"/>
<rect x="411.83" y="321.91" width="8.00" height="2.90" fill="#25b04c"/>
<rect x="421.52" y="322.99" width="8.00" height="33.91" fill="#15f58d"/>
<rect x="421.52" y="319.77" width="8.00" height="3.22" fill="#25b04c"/>
<rect x="431.21" y="321.21" width="8.00" height="35.69" fill="#15f58d"/>
<rect x="431.21" y="317.79" width="8.00" height="3.42" fill="#25b04c"/>
<rect x="440.90" y="318.54" width="8.00" height="38.36" fill="#15f58d"/>
<rect x="440.90" y="314.85" width="8.00" height="3.70" fill="#25b04c"/>
<rect x="450.59" y="316.41" width="8.00" height="40.49" fill="#15f58d"/>
<rect x="450.59" y="312.58" width="8.00" height="3.83" fill="#25b04c"/>
<rect x="460.28" y="314.56" width="8.00" height="42.34" fill="#15f58d"/>
<rect x="460.28" y="310.47" width="8.00" height="4.10" fill="#25b04c"/>
<rect x="469.97" y="313.19" width="8.00" height="43.71" fill="#15f58d"/>
<rect x="469.97" y="308.87" width="8.00" height="4.32" fill="#25b04c"/>
<rect x="479.66" y="311.42" width="8.00" height="45.48" fill="#15f58d"/>
<rect x="479.66" y="306.91" width="8.00" height="4.51" fill="#25b04c"/>
<rect x="489.35" y="309.33" width="8.00" height="47.57" fill="#15f58d"/>
<rect x="489.35" y="304.83" width="8.00" height="4.50" fill="#25b04c"/>
<rect x="499.04" y="307.70" width="8.00" height="49.20" fill="#15f58d"/>
<rect x="499.04" y="303.18" width="8.00" height="4.52" fill="#25b04c"/>
<rect x="508.73" y="304.36" width="8.00" height="52.54" fill="#15f58d"/>
<rect x="508.73" y="299.86" width="8.00" height="4.49" fill="#25b04c"/>
<rect x="518.42" y="302.47" width="8.00" height="54.43" fill="#15f58d"/>
<rect x="518.42" y="297.49" width="8.00" height="4.97" fill="#25b04c"/>
<rect x="528.11" y="300.81" width="8.00" height="56.09" fill="#15f58d"/>
<rect x="528.11" y="295.60" width="8.00" height="5.21" fill="#25b04c"/>
<rect x="537.80" y="298.92" width="8.00" height="57.98" fill="#15f58d"/>
<rect x="537.80" y="293.47" width="8.00" height="5.45" fill="#25b04c"/>
<rect x="547.49" y="297.26" width="8.00" height="59.64" fill="#15f58d"/>
<rect x="547.49" y="291.58" width="8.00" height="5.68" fill="#25b04c"/>
<rect x="557.18" y="294.18" width="8.00" height="62.72" fill="#15f58d"/>
<rect x="557.18" y="288.03" width="8.00" height="6.16" fill="#25b04c"/>
<rect x="566.87" y="291.81" width="8.00" height="65.09" fill="#15f58d"/>
<rect x="566.87" y="285.66" width="8.00" height="6.15" fill="#25b04c"/>
<rect x="576.56" y="289.69" width="8.00" height="67.21" fill="#15f58d"/>
<rect x="576.56" y="283.06" width="8.00" height="6.63" fill="#25b04c"/>
<rect x="586.25" y="288.03" width="8.00" height="68.87" fill="#15f58d"/>
<rect x="586.25" y="280.99" width="8.00" height="7.04" fill="#25b04c"/>
<rect x="595.94" y="286.85" width="8.00" height="70.05" fill="#15f58d"/>
<rect x="595.94" y="279.98" width="8.00" height="6.86" fill="#25b04c"/>
<rect x="605.63" y="284.95" width="8.00" height="71.95" fill="#15f58d"/>
<rect x="605.63" y="277.61" width="8.00" height="7.34" fill="#25b04c"/>
<rect x="615.32" y="282.35" width="8.00" height="74.55" fill="#15f58d"/>
<rect x="615.32" y="274.77" width="8.00" height="7.57" fill="#25b04c"/>
<rect x="625.01" y="281.40" width="8.00" height="75.50" fill="#15f58d"/>
<rect x="625.01" y="273.36" width="8.00" height="8.05" fill="#25b04c"/>
<rect x="634.70" y="279.02" width="8.00" height="77.88" fill="#15f58d"/>
<rect x="634.70" y="270.39" width="8.00" height="8.63" fill="#25b04c"/>
<rect x="644.39" y="277.21" width="8.00" height="79.69" fill="#15f58d"/>
<rect x="644.39" y="268.47" width="8.00" height="8.74" fill="#25b04c"/>
<rect x="654.08" y="276.18" width="8.00" height="80.72" fill="#15f58d"/>
<rect x="654.08" y="267.18" width="8.00" height="9.00" fill="#25b04c"/>
<rect x="663.77" y="275.15" width="8.00" height="81.75" fill="#15f58d"/>
<rect x="663.77" y="265.89" width="8.00" height="9.25" fill="#25b04c"/>
<rect x="673.46" y="273.86" width="8.00" height="83.04" fill="#15f58d"/>
<rect x="673.46" y="264.35" width="8.00" height="9.51" fill="#25b04c"/>
<rect x="683.15" y="272.84" width="8.00" height="84.06" fill="#15f58d"/>
<rect x="683.15" y="263.07" width="8.00" height="9.77" fill="#25b04c"/>
<rect x="692.84" y="271.04" width="8.00" height="85.86" fill="#15f58d"/>
<rect x="692.84" y="261.52" width="8.00" height="9.51" fill="#25b04c"/>
<rect x="702.53" y="269.75" width="8.00" height="87.15" fill="#15f58d"/>
<rect x="702.53" y="259.98" width="8.00" height="9.77" fill="#25b04c"/>
<rect x="712.22" y="267.95" width="8.00" height="88.95" fill="#15f58d"/>
<rect x="712.22" y="258.44" width="8.00" height="9.51" fill="#25b04c"/>
<rect x="52.3" y="356.25" width="668" height="1.3" fill="#6a6a6a"/>
</g>
<g font-family="Liberation Sans, sans-serif" fill="#000">
<text x="41.8" y="361.7" font-size="12.4" stroke="#000" stroke-width="0.3" text-anchor="end" transform="translate(41.8,0) scale(0.92,1) translate(-41.8,0)">0</text>
<text x="41.8" y="338.8" font-size="12.4" stroke="#000" stroke-width="0.3" text-anchor="end" transform="translate(41.8,0) scale(0.92,1) translate(-41.8,0)">7000</text>
<text x="41.8" y="315.8" font-size="12.4" stroke="#000" stroke-width="0.3" text-anchor="end" transform="translate(41.8,0) scale(0.92,1) translate(-41.8,0)">14000</text>
<text x="41.8" y="292.9" font-size="12.4" stroke="#000" stroke-width="0.3" text-anchor="end" transform="translate(41.8,0) scale(0.92,1) translate(-41.8,0)">21000</text>
<text x="41.8" y="270.0" font-size="12.4" stroke="#000" stroke-width="0.3" text-anchor="end" transform="translate(41.8,0) scale(0.92,1) translate(-41.8,0)">28000</text>
<text x="41.8" y="247.0" font-size="12.4" stroke="#000" stroke-width="0.3" text-anchor="end" transform="translate(41.8,0) scale(0.92,1) translate(-41.8,0)">35000</text>
<text transform="translate(61.00,433.93) rotate(-90)" font-size="9.8" stroke="#000" stroke-width="0.22" textLength="71.3" lengthAdjust="spacingAndGlyphs">February 24, 2020</text>
<text transform="translate(70.69,433.93) rotate(-90)" font-size="9.8" stroke="#000" stroke-width="0.22" textLength="71.3" lengthAdjust="spacingAndGlyphs">February 25, 2020</text>
<text transform="translate(80.38,433.93) rotate(-90)" font-size="9.8" stroke="#000" stroke-width="0.22" textLength="71.3" lengthAdjust="spacingAndGlyphs">February 26, 2020</text>
<text transform="translate(90.07,433.93) rotate(-90)" font-size="9.8" stroke="#000" stroke-width="0.22" textLength="71.3" lengthAdjust="spacingAndGlyphs">February 27, 2020</text>
<text transform="translate(99.76,433.93) rotate(-90)" font-size="9.8" stroke="#000" stroke-width="0.22" textLength="71.3" lengthAdjust="spacingAndGlyphs">February 28, 2020</text>
<text transform="translate(109.45,433.93) rotate(-90)" font-size="9.8" stroke="#000" stroke-width="0.22" textLength="71.3" lengthAdjust="spacingAndGlyphs">February 29, 2020</text>
<text transform="translate(119.14,418.34) rotate(-90)" font-size="9.8" stroke="#000" stroke-width="0.22" textLength="55.7" lengthAdjust="spacingAndGlyphs">March 1, 2020</text>
<text transform="translate(128.83,418.34) rotate(-90)" font-size="9.8" stroke="#000" stroke-width="0.22" textLength="55.7" lengthAdjust="spacingAndGlyphs">March 2, 2020</text>
<text transform="translate(138.52,418.34) rotate(-90)" font-size="9.8" stroke="#000" stroke-width="0.22" textLength="55.7" lengthAdjust="spacingAndGlyphs">March 3, 2020</text>
<text transform="translate(148.21,418.34) rotate(-90)" font-size="9.8" stroke="#000" stroke-width="0.22" textLength="55.7" lengthAdjust="spacingAndGlyphs">March 4, 2020</text>
<text transform="translate(157.90,418.34) rotate(-90)" font-size="9.8" stroke="#000" stroke-width="0.22" textLength="55.7" lengthAdjust="spacingAndGlyphs">March 5, 2020</text>
<text transform="translate(167.59,418.34) rotate(-90)" font-size="9.8" stroke="#000" stroke-width="0.22" textLength="55.7" lengthAdjust="spacingAndGlyphs">March 6, 2020</text>
<text transform="translate(177.28,418.34) rotate(-90)" font-size="9.8" stroke="#000" stroke-width="0.22" textLength="55.7" lengthAdjust="spacingAndGlyphs">March 7, 2020</text>
<text transform="translate(186.97,418.34) rotate(-90)" font-size="9.8" stroke="#000" stroke-width="0.22" textLength="55.7" lengthAdjust="spacingAndGlyphs">March 8, 2020</text>
<text transform="translate(196.66,418.34) rotate(-90)" font-size="9.8" stroke="#000" stroke-width="0.22" textLength="55.7" lengthAdjust="spacingAndGlyphs">March 9, 2020</text>
<text transform="translate(206.35,423.19) rotate(-90)" font-size="9.8" stroke="#000" stroke-width="0.22" textLength="60.6" lengthAdjust="spacingAndGlyphs">March 10, 2020</text>
<text transform="translate(216.04,423.19) rotate(-90)" font-size="9.8" stroke="#000" stroke-width="0.22" textLength="60.6" lengthAdjust="spacingAndGlyphs">March 11, 2020</text>
<text transform="translate(225.73,423.19) rotate(-90)" font-size="9.8" stroke="#000" stroke-width="0.22" textLength="60.6" lengthAdjust="spacingAndGlyphs">March 12, 2020</text>
<text transform="translate(235.42,423.19) rotate(-90)" font-size="9.8" stroke="#000" stroke-width="0.22" textLength="60.6" lengthAdjust="spacingAndGlyphs">March 13, 2020</text>
<text transform="translate(245.11,423.19) rotate(-90)" font-size="9.8" stroke="#000" stroke-width="0.22" textLength="60.6" lengthAdjust="spacingAndGlyphs">March 14, 2020</text>
<text transform="translate(254.80,423.19) rotate(-90)" font-size="9.8" stroke="#000" stroke-width="0.22" textLength="60.6" lengthAdjust="spacingAndGlyphs">March 15, 2020</text>
<text transform="translate(264.49,423.19) rotate(-90)" font-size="9.8" stroke="#000" stroke-width="0.22" textLength="60.6" lengthAdjust="spacingAndGlyphs">March 16, 2020</text>
<text transform="translate(274.18,423.19) rotate(-90)" font-size="9.8" stroke="#000" stroke-width="0.22" textLength="60.6" lengthAdjust="spacingAndGlyphs">March 17, 2020</text>
<text transform="translate(283.87,423.19) rotate(-90)" font-size="9.8" stroke="#000" stroke-width="0.22" textLength="60.6" lengthAdjust="spacingAndGlyphs">March 18, 2020</text>
<text transform="translate(293.56,423.19) rotate(-90)" font-size="9.8" stroke="#000" stroke-width="0.22" textLength="60.6" lengthAdjust="spacingAndGlyphs">March 19, 2020</text>
<text transform="translate(303.25,423.19) rotate(-90)" font-size="9.8" stroke="#000" stroke-width="0.22" textLength="60.6" lengthAdjust="spacingAndGlyphs">March 20, 2020</text>
<text transform="translate(312.94,423.19) rotate(-90)" font-size="9.8" stroke="#000" stroke-width="0.22" textLength="60.6" lengthAdjust="spacingAndGlyphs">March 21, 2020</text>
<text transform="translate(322.63,423.19) rotate(-90)" font-size="9.8" stroke="#000" stroke-width="0.22" textLength="60.6" lengthAdjust="spacingAndGlyphs">March 22, 2020</text>
<text transform="translate(332.32,423.19) rotate(-90)" font-size="9.8" stroke="#000" stroke-width="0.22" textLength="60.6" lengthAdjust="spacingAndGlyphs">March 23, 2020</text>
<text transform="translate(342.01,423.19) rotate(-90)" font-size="9.8" stroke="#000" stroke-width="0.22" textLength="60.6" lengthAdjust="spacingAndGlyphs">March 24, 2020</text>
<text transform="translate(351.70,423.19) rotate(-90)" font-size="9.8" stroke="#000" stroke-width="0.22" textLength="60.6" lengthAdjust="spacingAndGlyphs">March 25, 2020</text>
<text transform="translate(361.39,423.19) rotate(-90)" font-size="9.8" stroke="#000" stroke-width="0.22" textLength="60.6" lengthAdjust="spacingAndGlyphs">March 26, 2020</text>
<text transform="translate(371.08,423.19) rotate(-90)" font-size="9.8" stroke="#000" stroke-width="0.22" textLength="60.6" lengthAdjust="spacingAndGlyphs">March 27, 2020</text>
<text transform="translate(380.77,423.19) rotate(-90)" font-size="9.8" stroke="#000" stroke-width="0.22" textLength="60.6" lengthAdjust="spacingAndGlyphs">March 28, 2020</text>
<text transform="translate(390.46,423.19) rotate(-90)" font-size="9.8" stroke="#000" stroke-width="0.22" textLength="60.6" lengthAdjust="spacingAndGlyphs">March 29, 2020</text>
<text transform="translate(400.15,423.19) rotate(-90)" font-size="9.8" stroke="#000" stroke-width="0.22" textLength="60.6" lengthAdjust="spacingAndGlyphs">March 30, 2020</text>
<text transform="translate(409.84,423.19) rotate(-90)" font-size="9.8" stroke="#000" stroke-width="0.22" textLength="60.6" lengthAdjust="spacingAndGlyphs">March 31, 2020</text>
<text transform="translate(419.53,413.13) rotate(-90)" font-size="9.8" stroke="#000" stroke-width="0.22" textLength="50.5" lengthAdjust="spacingAndGlyphs">April 1, 2020</text>
<text transform="translate(429.22,413.13) rotate(-90)" font-size="9.8" stroke="#000" stroke-width="0.22" textLength="50.5" lengthAdjust="spacingAndGlyphs">April 2, 2020</text>
<text transform="translate(438.91,413.13) rotate(-90)" font-size="9.8" stroke="#000" stroke-width="0.22" textLength="50.5" lengthAdjust="spacingAndGlyphs">April 3, 2020</text>
<text transform="translate(448.60,413.13) rotate(-90)" font-size="9.8" stroke="#000" stroke-width="0.22" textLength="50.5" lengthAdjust="spacingAndGlyphs">April 4, 2020</text>
<text transform="translate(458.29,413.13) rotate(-90)" font-size="9.8" stroke="#000" stroke-width="0.22" textLength="50.5" lengthAdjust="spacingAndGlyphs">April 5, 2020</text>
<text transform="translate(467.98,413.13) rotate(-90)" font-size="9.8" stroke="#000" stroke-width="0.22" textLength="50.5" lengthAdjust="spacingAndGlyphs">April 6, 2020</text>
<text transform="translate(477.67,413.13) rotate(-90)" font-size="9.8" stroke="#000" stroke-width="0.22" textLength="50.5" lengthAdjust="spacingAndGlyphs">April 7, 2020</text>
<text transform="translate(487.36,413.13) rotate(-90)" font-size="9.8" stroke="#000" stroke-width="0.22" textLength="50.5" lengthAdjust="spacingAndGlyphs">April 8, 2020</text>
<text transform="translate(497.05,413.13) rotate(-90)" font-size="9.8" stroke="#000" stroke-width="0.22" textLength="50.5" lengthAdjust="spacingAndGlyphs">April 9, 2020</text>
<text transform="translate(506.74,418.13) rotate(-90)" font-size="9.8" stroke="#000" stroke-width="0.22" textLength="55.5" lengthAdjust="spacingAndGlyphs">April 10, 2020</text>
<text transform="translate(516.43,418.13) rotate(-90)" font-size="9.8" stroke="#000" stroke-width="0.22" textLength="55.5" lengthAdjust="spacingAndGlyphs">April 11, 2020</text>
<text transform="translate(526.12,418.13) rotate(-90)" font-size="9.8" stroke="#000" stroke-width="0.22" textLength="55.5" lengthAdjust="spacingAndGlyphs">April 12, 2020</text>
<text transform="translate(535.81,418.13) rotate(-90)" font-size="9.8" stroke="#000" stroke-width="0.22" textLength="55.5" lengthAdjust="spacingAndGlyphs">April 13, 2020</text>
<text transform="translate(545.50,418.13) rotate(-90)" font-size="9.8" stroke="#000" stroke-width="0.22" textLength="55.5" lengthAdjust="spacingAndGlyphs">April 14, 2020</text>
<text transform="translate(555.19,418.13) rotate(-90)" font-size="9.8" stroke="#000" stroke-width="0.22" textLength="55.5" lengthAdjust="spacingAndGlyphs">April 15, 2020</text>
<text transform="translate(564.88,418.13) rotate(-90)" font-size="9.8" stroke="#000" stroke-width="0.22" textLength="55.5" lengthAdjust="spacingAndGlyphs">April 16, 2020</text>
<text transform="translate(574.57,418.13) rotate(-90)" font-size="9.8" stroke="#000" stroke-width="0.22" textLength="55.5" lengthAdjust="spacingAndGlyphs">April 17, 2020</text>
<text transform="translate(584.26,418.13) rotate(-90)" font-size="9.8" stroke="#000" stroke-width="0.22" textLength="55.5" lengthAdjust="spacingAndGlyphs">April 18, 2020</text>
<text transform="translate(593.95,418.13) rotate(-90)" font-size="9.8" stroke="#000" stroke-width="0.22" textLength="55.5" lengthAdjust="spacingAndGlyphs">April 19, 2020</text>
<text transform="translate(603.64,418.13) rotate(-90)" font-size="9.8" stroke="#000" stroke-width="0.22" textLength="55.5" lengthAdjust="spacingAndGlyphs">April 20, 2020</text>
<text transform="translate(613.33,418.13) rotate(-90)" font-size="9.8" stroke="#000" stroke-width="0.22" textLength="55.5" lengthAdjust="spacingAndGlyphs">April 21, 2020</text>
<text transform="translate(623.02,418.13) rotate(-90)" font-size="9.8" stroke="#000" stroke-width="0.22" textLength="55.5" lengthAdjust="spacingAndGlyphs">April 22, 2020</text>
<text transform="translate(632.71,418.13) rotate(-90)" font-size="9.8" stroke="#000" stroke-width="0.22" textLength="55.5" lengthAdjust="spacingAndGlyphs">April 23, 2020</text>
<text transform="translate(642.40,418.13) rotate(-90)" font-size="9.8" stroke="#000" stroke-width="0.22" textLength="55.5" lengthAdjust="spacingAndGlyphs">April 24, 2020</text>
<text transform="translate(652.09,418.13) rotate(-90)" font-size="9.8" stroke="#000" stroke-width="0.22" textLength="55.5" lengthAdjust="spacingAndGlyphs">April 25, 2020</text>
<text transform="translate(661.78,418.13) rotate(-90)" font-size="9.8" stroke="#000" stroke-width="0.22" textLength="55.5" lengthAdjust="spacingAndGlyphs">April 26, 2020</text>
<text transform="translate(671.47,418.13) rotate(-90)" font-size="9.8" stroke="#000" stroke-width="0.22" textLength="55.5" lengthAdjust="spacingAndGlyphs">April 27, 2020</text>
<text transform="translate(681.16,418.13) rotate(-90)" font-size="9.8" stroke="#000" stroke-width="0.22" textLength="55.5" lengthAdjust="spacingAndGlyphs">April 28, 2020</text>
<text transform="translate(690.85,418.13) rotate(-90)" font-size="9.8" stroke="#000" stroke-width="0.22" textLength="55.5" lengthAdjust="spacingAndGlyphs">April 29, 2020</text>
<text transform="translate(700.54,418.13) rotate(-90)" font-size="9.8" stroke="#000" stroke-width="0.22" textLength="55.5" lengthAdjust="spacingAndGlyphs">April 30, 2020</text>
<text transform="translate(710.23,409.10) rotate(-90)" font-size="9.8" stroke="#000" stroke-width="0.22" textLength="46.5" lengthAdjust="spacingAndGlyphs">May 1, 2020</text>
<text transform="translate(719.92,409.10) rotate(-90)" font-size="9.8" stroke="#000" stroke-width="0.22" textLength="46.5" lengthAdjust="spacingAndGlyphs">May 2, 2020</text>
<rect x="726.1" y="237.5" width="11.8" height="11.9" fill="#25b04c"/>
<rect x="726.1" y="252.4" width="11.8" height="11.9" fill="#15f58d"/>
<text x="746.5" y="247.9" font-size="12.2" stroke="#000" stroke-width="0.3">Di</text>
<text x="746.5" y="262.7" font-size="12.2" stroke="#000" stroke-width="0.3">Iqi+Ihi</text>
<rect x="64.8" y="440.8" width="123.5" height="18.4" fill="#8cd2bf"/>
<rect x="182.8" y="464.5" width="126.9" height="18.3" fill="#66c9f4"/>
<rect x="308.7" y="488.7" width="410.6" height="19" fill="#2e86da"/>
<text x="181.5" y="454.4" font-size="11.4" stroke="#000" stroke-width="0.3" font-style="italic" text-anchor="end" textLength="71" lengthAdjust="spacingAndGlyphs">First Restriction</text>
<text x="308.5" y="478.1" font-size="11.4" stroke="#000" stroke-width="0.3" font-style="italic" text-anchor="end" textLength="84" lengthAdjust="spacingAndGlyphs">Second Restriction</text>
<text x="716" y="502.6" font-size="11.4" stroke="#000" stroke-width="0.3" font-style="italic" text-anchor="end" textLength="75" lengthAdjust="spacingAndGlyphs">Third Restriction</text>
<text transform="translate(27.6,507.3) rotate(-90)" font-size="14" textLength="56" lengthAdjust="spacingAndGlyphs" stroke="#000" stroke-width="0.2">Constrain</text>
<text transform="translate(42.7,505.5) rotate(-90)" font-size="14" textLength="52.5" lengthAdjust="spacingAndGlyphs" stroke="#000" stroke-width="0.2">strategies</text>
</g>
</svg>
</body></html>
